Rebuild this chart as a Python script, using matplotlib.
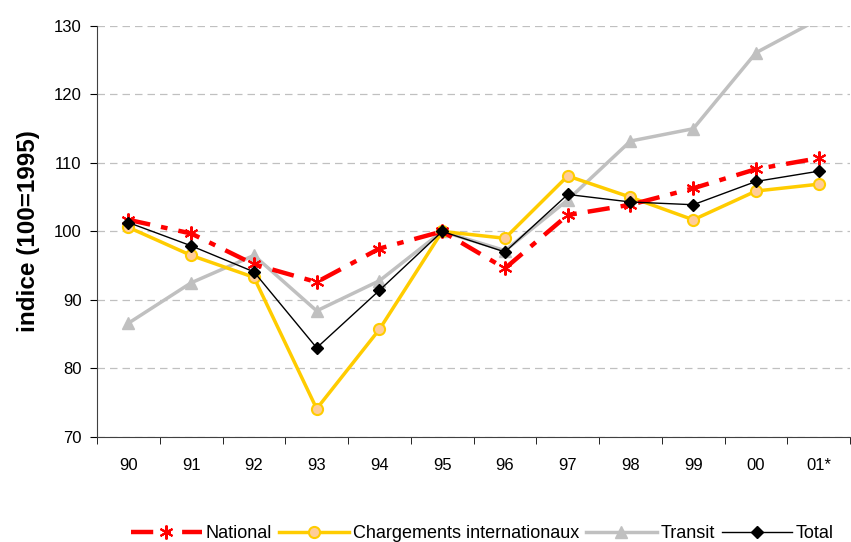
import numpy as np
import matplotlib.pyplot as plt

plt.rcParams['font.family'] = ['Liberation Sans', 'DejaVu Sans']

# ---------------------------- données ----------------------------
annees = ['90', '91', '92', '93', '94', '95', '96', '97', '98', '99', '00', '01*']
national = [101.7, 99.7, 95.2, 92.6, 97.5, 100.0, 94.6, 102.4, 103.9, 106.3, 109.1, 110.7]
chargements = [100.6, 96.5, 93.3, 74.1, 85.7, 100.0, 99.0, 108.1, 105.0, 101.7, 105.9, 106.9]
transit = [86.6, 92.5, 96.5, 88.4, 92.8, 100.0, 97.2, 104.6, 113.2, 115.0, 126.1, 131.0]
total = [101.3, 97.9, 94.1, 83.0, 91.4, 100.0, 97.0, 105.4, 104.3, 103.9, 107.3, 108.8]

x = np.arange(len(annees))

fig = plt.figure(figsize=(8.51, 5.42), dpi=100)
ax = fig.add_axes([0.114, 0.194, 0.885, 0.758])

ax.plot(x, national, color='#FF0000', lw=3.2, dashes=(5, 2.5, 1.5, 2.5),
        marker=(6, 2, 0), ms=10, mew=1.5, mec='#FF0000', label='National', zorder=3)
ax.plot(x, chargements, color='#FFCC00', lw=2.5, marker='o', ms=8,
        mfc='#FFCC99', mec='#FFCC00', mew=1.5, label='Chargements internationaux', zorder=2)
ax.plot(x, transit, color='#C0C0C0', lw=2.5, marker='^', ms=8,
        mfc='#C0C0C0', mec='#C0C0C0', label='Transit', zorder=1)
ax.plot(x, total, color='black', lw=1, marker='D', ms=6.5, label='Total', zorder=4)

ax.set_ylim(70, 130)
ax.set_xlim(-0.5, len(annees) - 0.5)
ax.set_yticks(range(70, 131, 10))
ax.set_xticks(x)
ax.set_xticklabels(annees)
ax.set_xticks(np.arange(-0.5, len(annees), 1), minor=True)
ax.tick_params(axis='x', which='major', length=0, pad=15, labelsize=12)
ax.tick_params(axis='x', which='minor', length=5, direction='out')
ax.tick_params(axis='y', length=5, direction='out', labelsize=12, pad=6)

ax.yaxis.grid(True, linestyle=(0, (6, 4)), color='#C0C0C0', lw=0.9)
ax.set_axisbelow(True)
for s in ['top', 'right']:
    ax.spines[s].set_visible(False)
ax.spines['left'].set_color('#404040')
ax.spines['bottom'].set_color('#404040')

ax.set_ylabel('indice (100=1995)', fontsize=17.5, fontweight='bold', labelpad=10)

fig.legend(loc='lower center', bbox_to_anchor=(0.567, -0.03), ncol=4, frameon=False,
           fontsize=13, handlelength=3.9, handletextpad=0.2, columnspacing=0.4)

fig.savefig('out.png', dpi=100)
